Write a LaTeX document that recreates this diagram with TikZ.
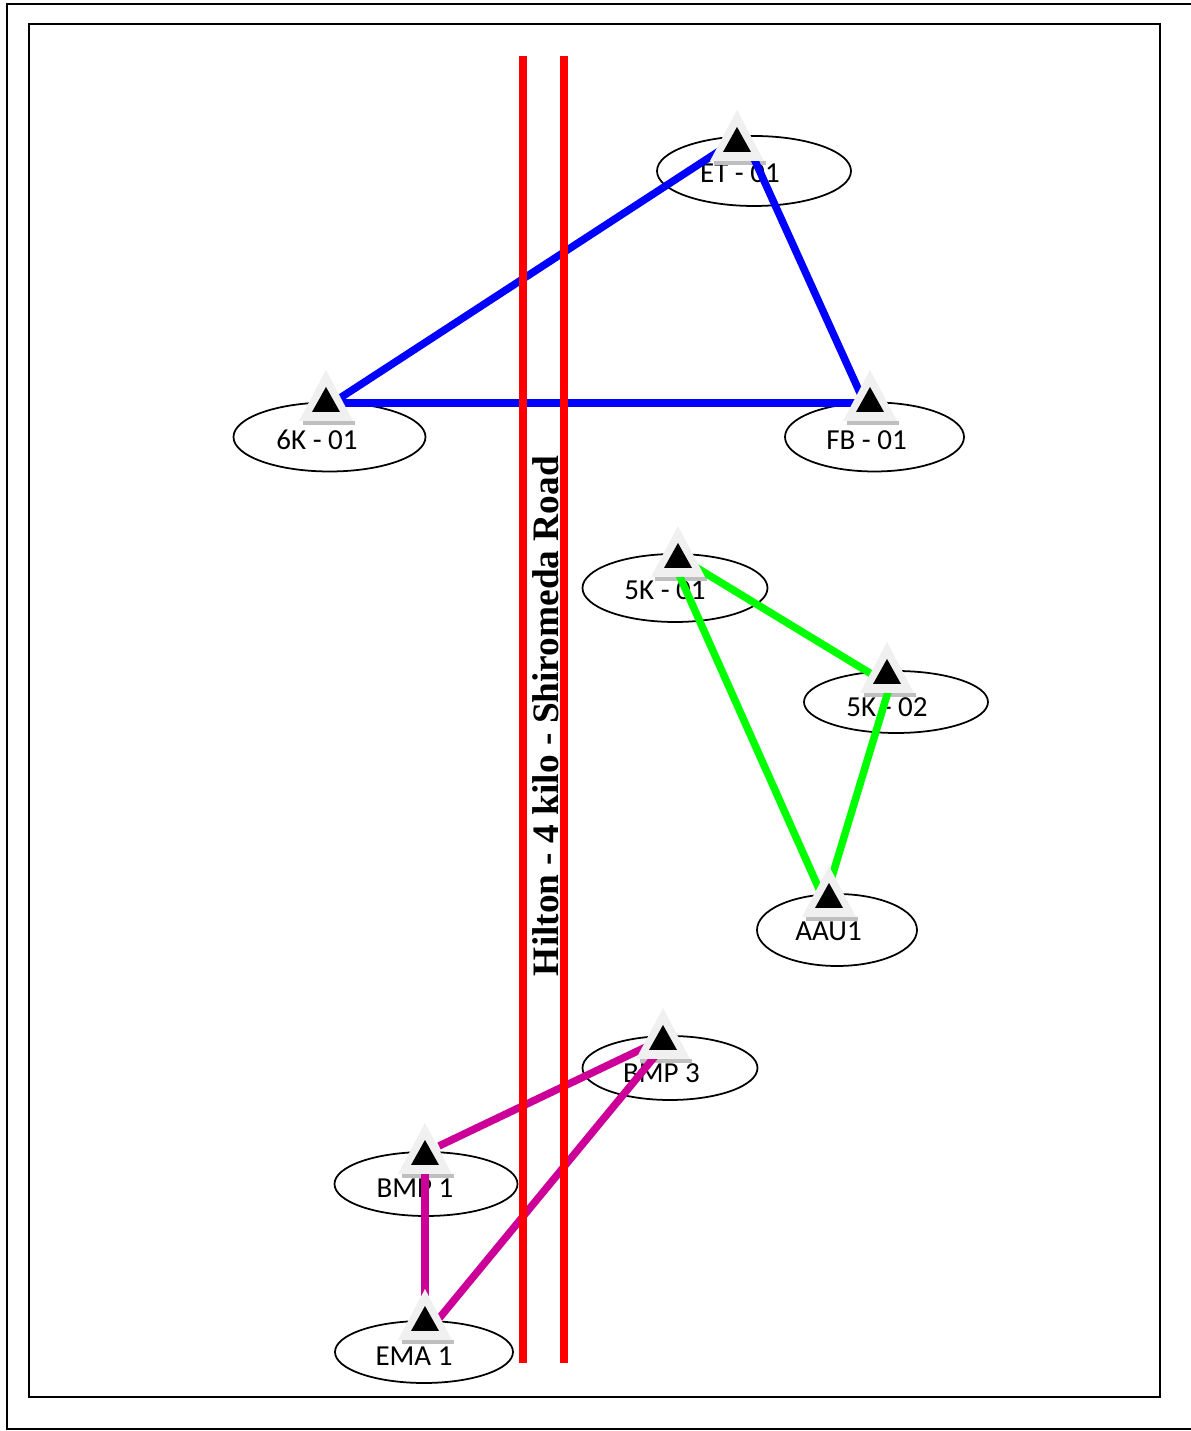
\documentclass[tikz,border=0pt]{standalone}
\usepackage{fontspec}
\setmainfont{Carlito}
\newfontfamily\roadfont{Liberation Serif}
\usepackage{xcolor}
\usetikzlibrary{calc}
\definecolor{linkmagenta}{RGB}{204,0,153}
\tikzset{
    towerspot/.style={minimum width=0.56cm, minimum height=0.5cm, inner sep=0pt, outer sep=0pt},
    sitelabel/.style={font=\fontsize{16.5}{20}\selectfont, inner sep=0pt},
    link/.style={line width=0.15cm},
    road/.style={red, line width=0.15cm}
}
\begin{document}
\begin{tikzpicture}
    \useasboundingbox (0,0) rectangle (23.82,28.62);
    % Page frames
    \coordinate (pageSW) at (0.14,0.04);
    \coordinate (pageNE) at (24.2,28.54);
    \coordinate (boxSW) at (0.58,0.68);
    \coordinate (boxNE) at (23.2,28.14);
    \draw[line width=1pt] (pageSW) rectangle (pageNE);
    \draw[line width=1pt] (boxSW) rectangle (boxNE);

    % Site ellipses
    \foreach \x/\y/\rx/\ry in {15.08/25.20/1.94/0.70, 6.59/19.88/1.92/0.69, 17.49/19.88/1.79/0.69, 13.50/16.86/1.85/0.68, 17.92/14.58/1.84/0.62, 16.74/10.02/1.60/0.72, 13.40/7.26/1.75/0.64, 8.52/4.94/1.83/0.64, 8.48/1.58/1.78/0.62}
        \draw[line width=1pt] (\x,\y) ellipse ({\rx} and {\ry});

    % Site labels
    \node[sitelabel] (etlabel) at (14.80,25.16) {ET - 01};
    \node[sitelabel] (sixklabel) at (6.34,19.82) {6K - 01};
    \node[sitelabel] (fblabel) at (17.33,19.82) {FB - 01};
    \node[sitelabel] (fivealabel) at (13.30,16.82) {5K - 01};
    \node[sitelabel] (fiveblabel) at (17.74,14.48) {5K - 02};
    \node[sitelabel] (aaulabel) at (16.57,10.00) {AAU1};
    \node[sitelabel] (bmpthreelabel) at (13.23,7.16) {BMP 3};
    \node[sitelabel] (bmponelabel) at (8.30,4.86) {BMP 1};
    \node[sitelabel] (emalabel) at (8.28,1.50) {EMA 1};

    % Tower positions
    \node[towerspot] (et) at (14.74,25.83) {};
    \node[towerspot] (sixk) at (6.52,20.63) {};
    \node[towerspot] (fb) at (17.40,20.63) {};
    \node[towerspot] (fivea) at (13.56,17.51) {};
    \node[towerspot] (fiveb) at (17.74,15.19) {};
    \node[towerspot] (aau) at (16.58,10.71) {};
    \node[towerspot] (bmpthree) at (13.26,7.87) {};
    \node[towerspot] (bmpone) at (8.50,5.57) {};
    \node[towerspot] (ema) at (8.50,2.25) {};

    % Tower feet go under the links
    \foreach \t in {et,sixk,fb,fivea,fiveb,aau,bmpthree,bmpone,ema}
        \fill[black!25] ($(\t)+(-0.46,-0.43)$) rectangle ($(\t)+(0.58,-0.52)$);

    % Links
    \draw[link, blue] (sixk.6) -- (et.213);
    \draw[link, blue] (et.south east) -- ($(fb.west)!0.5!(fb.center)$);
    \draw[link, blue] (sixk.-14) -- (fb.194);
    \draw[link, green] (fivea.-34) -- (fiveb.194);
    \draw[link, green] (fivea.-99) -- ($(aau.north west)!0.5!(aau.south)$);
    \draw[link, green] (fiveb.-75) -- (aau.85);
    \draw[link, linkmagenta] (bmpthree.210) -- (bmpone.25);
    \draw[link, linkmagenta] (bmpthree.-103) -- (ema.east);
    \draw[link, linkmagenta] (bmpone.south) -- (ema.north);

    % Tower icons
    \foreach \t in {et,sixk,fb,fivea,fiveb,aau,bmpthree,bmpone,ema} {
        \fill[black!6] ($(\t)+(0,0.59)$) -- ($(\t)+(-0.54,-0.43)$) -- ($(\t)+(0.54,-0.43)$) -- cycle;
        \fill[black] ($(\t)+(0,0.25)$) -- ($(\t)+(-0.28,-0.25)$) -- ($(\t)+(0.28,-0.25)$) -- cycle;
    }

    % Road
    \coordinate (roadAtop) at (10.46,27.50);
    \coordinate (roadAbot) at (10.46,1.36);
    \coordinate (roadBtop) at (11.28,27.50);
    \coordinate (roadBbot) at (11.28,1.36);
    \draw[road] (roadAtop) -- (roadAbot);
    \draw[road] (roadBtop) -- (roadBbot);
    \node[rotate=90, inner sep=0pt, font=\roadfont\bfseries\fontsize{21.25}{25}\selectfont] (roadname) at (10.92,14.30) {Hilton - 4 kilo - Shiromeda Road};
\end{tikzpicture}
\end{document}
